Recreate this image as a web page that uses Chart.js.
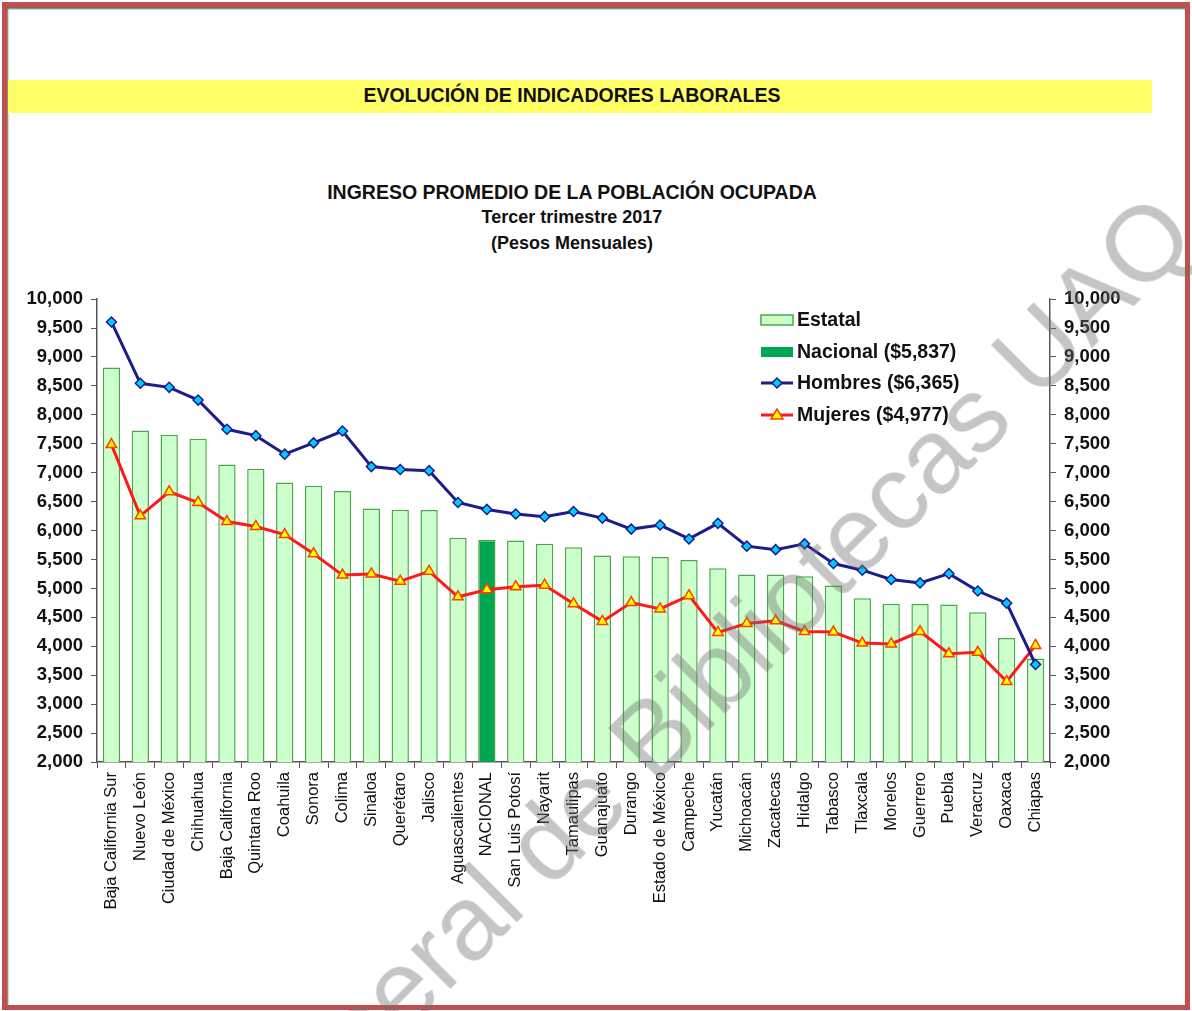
<!DOCTYPE html>
<html lang="es">

<head>
    <meta charset="UTF-8">
    <title>Ingreso promedio de la población ocupada</title>
    <script src="https://cdn.jsdelivr.net/npm/chart.js"></script>
    <style>
        html, body { margin: 0; padding: 0; background: #fff; overflow: hidden; }
        body { width: 1192px; height: 1011px; position: relative; font-family: "Liberation Sans", Arial, sans-serif; color: #111; }
        .marco { position: absolute; left: 2px; top: 2px; width: 1178px; height: 998px; border: 5px solid #c0504d; box-shadow: inset 1px 2px 2px #666; }
        .franja { position: absolute; left: 8px; top: 80px; width: 1144px; height: 33px; background: #ffff66; }
        .texto { position: absolute; left: 0; width: 1144px; text-align: center; font-weight: bold; white-space: nowrap; }
        #grafica { position: absolute; left: 20px; top: 280px; }
        .marca-agua { position: absolute; left: -135px; top: 1447px; font-size: 106px; line-height: 1; white-space: nowrap;
            color: rgba(110, 110, 110, 0.4); transform-origin: 0 0; transform: rotate(-45deg); pointer-events: none; }
    </style>
</head>

<body>
    <div class="marco"></div>
    <div class="franja"></div>
    <div class="texto" style="top:84px; font-size:19.5px;">EVOLUCIÓN DE INDICADORES LABORALES</div>

    <div class="texto" style="top:181px; font-size:19.5px;">INGRESO PROMEDIO DE LA POBLACIÓN OCUPADA</div>
    <div class="texto" style="top:207px; font-size:18px;">Tercer trimestre 2017</div>
    <div class="texto" style="top:233px; font-size:18px;">(Pesos Mensuales)</div>

    <canvas id="grafica" width="1130" height="700"></canvas>

    <div class="marca-agua">Dirección General de Bibliotecas UAQ</div>

    <script>
        // datos
        const estados = ['Baja California Sur', 'Nuevo León', 'Ciudad de México', 'Chihuahua', 'Baja California',
            'Quintana Roo', 'Coahuila', 'Sonora', 'Colima', 'Sinaloa', 'Querétaro', 'Jalisco', 'Aguascalientes',
            'NACIONAL', 'San Luis Potosí', 'Nayarit', 'Tamaulipas', 'Guanajuato', 'Durango', 'Estado de México',
            'Campeche', 'Yucatán', 'Michoacán', 'Zacatecas', 'Hidalgo', 'Tabasco', 'Tlaxcala', 'Morelos',
            'Guerrero', 'Puebla', 'Veracruz', 'Oaxaca', 'Chiapas'];

        const estatal = [8820, 7730, 7655, 7585, 7140, 7070, 6830, 6775, 6685, 6380, 6360, 6355, 5875,
            5837, 5830, 5770, 5710, 5570, 5555, 5545, 5490, 5350, 5240, 5240, 5210, 5050, 4830, 4735,
            4730, 4720, 4590, 4145, 3790];

        const hombres = [9605, 8545, 8475, 8255, 7750, 7640, 7320, 7515, 7720, 7105, 7055, 7035, 6485,
            6365, 6285, 6240, 6330, 6215, 6025, 6095, 5855, 6125, 5730, 5670, 5770, 5430, 5315, 5155,
            5095, 5255, 4955, 4745, 3685];

        const mujeres = [7485, 6255, 6670, 6485, 6155, 6070, 5930, 5600, 5230, 5250, 5125, 5295, 4855,
            4977, 5030, 5055, 4735, 4430, 4755, 4645, 4875, 4240, 4395, 4440, 4255, 4245, 4055, 4040,
            4255, 3870, 3895, 3390, 4015];

        const leyenda = ['Estatal', 'Nacional ($5,837)', 'Hombres ($6,365)', 'Mujeres ($4,977)'];

        const yMin = 2000;
        const yMax = 10000;
        const yPaso = 500;

        const fuente = '"Liberation Sans", Arial, sans-serif';
        const azul = '#1c1c8a';
        const rojo = '#ff1a1a';

        // la barra nacional va en verde fuerte
        const coloresBarra = estados.map(e => e == 'NACIONAL' ? '#00a651' : '#ccffcc');

        // leyenda dibujada dentro del area de la grafica
        const pluginLeyenda = {
            id: 'leyenda',
            afterDraw(chart) {
                const ctx = chart.ctx;
                const x0 = 741, x1 = 773;
                const filas = [40, 72, 103, 135];
                ctx.save();

                // Estatal
                ctx.fillStyle = '#ccffcc';
                ctx.strokeStyle = '#4aa84a';
                ctx.lineWidth = 1.5;
                ctx.fillRect(x0, filas[0] - 5, x1 - x0, 10);
                ctx.strokeRect(x0, filas[0] - 5, x1 - x0, 10);

                // Nacional
                ctx.fillStyle = '#00a651';
                ctx.fillRect(x0, filas[1] - 5, x1 - x0, 10);

                // Hombres
                ctx.strokeStyle = azul;
                ctx.lineWidth = 3;
                ctx.beginPath();
                ctx.moveTo(x0, filas[2]);
                ctx.lineTo(x1, filas[2]);
                ctx.stroke();
                let cx = (x0 + x1) / 2;
                ctx.fillStyle = '#00ccff';
                ctx.lineWidth = 1.5;
                ctx.beginPath();
                ctx.moveTo(cx, filas[2] - 5);
                ctx.lineTo(cx + 5, filas[2]);
                ctx.lineTo(cx, filas[2] + 5);
                ctx.lineTo(cx - 5, filas[2]);
                ctx.closePath();
                ctx.fill();
                ctx.stroke();

                // Mujeres
                ctx.strokeStyle = rojo;
                ctx.lineWidth = 3;
                ctx.beginPath();
                ctx.moveTo(x0, filas[3]);
                ctx.lineTo(x1, filas[3]);
                ctx.stroke();
                ctx.fillStyle = '#ffff00';
                ctx.strokeStyle = '#ff4000';
                ctx.lineWidth = 1.5;
                ctx.beginPath();
                ctx.moveTo(cx, filas[3] - 6);
                ctx.lineTo(cx + 6, filas[3] + 4);
                ctx.lineTo(cx - 6, filas[3] + 4);
                ctx.closePath();
                ctx.fill();
                ctx.stroke();

                ctx.fillStyle = '#111';
                ctx.font = 'bold 19.5px ' + fuente;
                ctx.textBaseline = 'middle';
                leyenda.forEach((t, i) => ctx.fillText(t, 777, filas[i] + 1));
                ctx.restore();
            }
        };

        const ejeY = (posicion, ancho) => ({
            position: posicion,
            min: yMin,
            max: yMax,
            afterFit: s => { s.width = ancho; },
            border: { display: true, color: '#555', width: 1.5 },
            grid: { drawOnChartArea: false, drawTicks: true, tickLength: 6, color: '#555' },
            ticks: {
                stepSize: yPaso,
                padding: 8,
                color: '#111',
                font: { family: fuente, size: 18.5, weight: 'bold' },
                callback: v => v.toLocaleString('en-US')
            }
        });

        new Chart(document.getElementById('grafica'), {
            type: 'bar',
            data: {
                labels: estados,
                datasets: [
                    {
                        type: 'line',
                        label: 'Hombres',
                        data: hombres,
                        yAxisID: 'y',
                        borderColor: azul,
                        borderWidth: 3,
                        pointStyle: 'rectRot',
                        pointRadius: 5,
                        pointBackgroundColor: '#00ccff',
                        pointBorderColor: azul,
                        pointBorderWidth: 1.5,
                        order: 0
                    },
                    {
                        type: 'line',
                        label: 'Mujeres',
                        data: mujeres,
                        yAxisID: 'y',
                        borderColor: rojo,
                        borderWidth: 3,
                        pointStyle: 'triangle',
                        pointRadius: 6,
                        pointBackgroundColor: '#ffff00',
                        pointBorderColor: '#ff4000',
                        pointBorderWidth: 1.5,
                        order: 1
                    },
                    {
                        label: 'Estatal',
                        data: estatal,
                        yAxisID: 'y',
                        backgroundColor: coloresBarra,
                        borderColor: '#4aa84a',
                        borderWidth: 1.5,
                        barPercentage: 0.6,
                        categoryPercentage: 1,
                        order: 2
                    }
                ]
            },
            options: {
                responsive: false,
                animation: false,
                devicePixelRatio: 1,
                layout: { padding: { top: 16, left: 0, right: 0, bottom: 0 } },
                plugins: {
                    legend: { display: false },
                    tooltip: { enabled: false }
                },
                scales: {
                    x: {
                        offset: true,
                        afterFit: s => { s.height = 218; },
                        border: { display: true, color: '#555', width: 1.5 },
                        grid: { offset: true, drawOnChartArea: false, drawTicks: true, tickLength: 6, color: '#555' },
                        ticks: {
                            autoSkip: false,
                            minRotation: 90,
                            maxRotation: 90,
                            padding: 4,
                            color: '#111',
                            font: { family: fuente, size: 16.5 }
                        }
                    },
                    y: ejeY('left', 77),
                    y1: ejeY('right', 100)
                }
            },
            plugins: [pluginLeyenda]
        });
    </script>
</body>

</html>
